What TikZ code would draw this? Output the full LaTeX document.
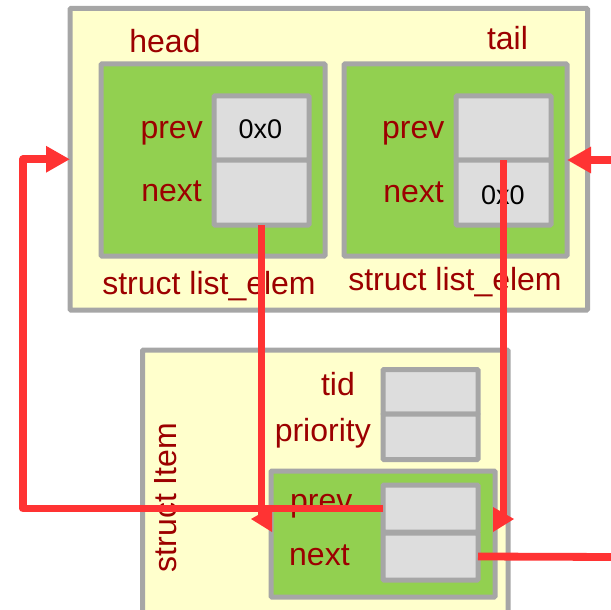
\documentclass[tikz,border=0pt]{standalone}
\usepackage{fontspec}
\setmainfont{Liberation Sans}
\usetikzlibrary{arrows.meta}
\definecolor{bordergray}{HTML}{A6A6A6}
\definecolor{paleyellow}{HTML}{FFFFCC}
\definecolor{leafgreen}{HTML}{92D050}
\definecolor{cellgray}{HTML}{DDDDDD}
\definecolor{txtred}{HTML}{9C0000}
\definecolor{linered}{HTML}{FF3333}
\tikzset{
  box/.style={rectangle, draw=bordergray, line width=5pt, inner sep=0pt, outer sep=0pt, rounded corners=1pt},
  ybox/.style={box, fill=paleyellow},
  gbox/.style={box, fill=leafgreen},
  cell/.style={box, fill=cellgray},
  lbl/.style={text=txtred, font=\fontsize{32}{37}\selectfont, inner sep=0pt},
  val/.style={text=black, font=\fontsize{27}{32}\selectfont, inner sep=0pt},
  conn/.style={draw=linered, line width=7.8pt, line join=round},
  bigtip/.style={-{Triangle[length=24pt,width=25pt]}},
}
\begin{document}
\begin{tikzpicture}[x=1pt,y=1pt]
\useasboundingbox (0,0) rectangle (611,-610);
% outer list box
\node[ybox, minimum width=517.5pt, minimum height=301.5pt] (outer) at (328.75,-159.25) {};
\node[gbox, minimum width=224pt, minimum height=192pt] (hg) at (213,-160) {};
\node[gbox, minimum width=223pt, minimum height=192pt] (tg) at (455.5,-160) {};
\node[cell, minimum width=95pt, minimum height=64pt] (hp) at (261.5,-128) {};
\node[cell, minimum width=95pt, minimum height=65pt] (hn) at (261.5,-192.5) {};
\node[cell, minimum width=95pt, minimum height=64pt] (tp) at (503.5,-128) {};
\node[cell, minimum width=95pt, minimum height=65pt] (tn) at (503.5,-192.5) {};
% item box
\node[ybox, minimum width=365.5pt, minimum height=275pt] (item) at (325.25,-487.5) {};
\node[cell, minimum width=95pt, minimum height=44.5pt] (tid) at (430.5,-391.75) {};
\node[cell, minimum width=95pt, minimum height=45.5pt] (pri) at (430.5,-436.75) {};
\node[gbox, minimum width=224pt, minimum height=126pt] (ig) at (383,-534) {};
\node[cell, minimum width=95pt, minimum height=47pt] (ip) at (430.5,-508.5) {};
\node[cell, minimum width=95pt, minimum height=47pt] (in) at (430.5,-556.5) {};
% texts
\node[lbl, anchor=base] (thead) at (165,-53) {head};
\node[lbl, anchor=base] (ttail) at (507.5,-50) {tail};
\node[lbl, anchor=base east] (thprev) at (203,-139) {prev};
\node[lbl, anchor=base east] (thnext) at (202,-201) {next};
\node[lbl, anchor=base east] (ttprev) at (444.5,-139) {prev};
\node[lbl, anchor=base east] (ttnext) at (444,-202) {next};
\node[val, anchor=base] (vh) at (260.5,-139) {0x0};
\node[val, anchor=base] (vt) at (503,-204) {0x0};
\node[lbl, anchor=base] (shead) at (209,-294) {struct list\_elem};
\node[lbl, anchor=base] (stail) at (455,-290) {struct list\_elem};
\node[lbl, anchor=base east] (ttid) at (355,-395) {tid};
\node[lbl, anchor=base east] (tpri) at (371,-441) {priority};
\node[lbl, anchor=base west] (tiprev) at (290,-511) {prev};
\node[lbl, anchor=base west] (tinext) at (289,-565) {next};
\node[lbl, anchor=base, rotate=90] (titem) at (176,-497.5) {struct Item};
% connectors
\coordinate (L) at (23,-159.25);
\coordinate (R) at (615,-160);
\coordinate (E) at (615,-557);
\coordinate (A3) at (261.5,-519);
\coordinate (A4) at (503.5,-519);
\draw[conn, bigtip] (ip.west) -| (L) -- (outer.west);
\draw[conn, bigtip] (R) -- (tg.east);
\draw[conn] (hn.south) -- (A3);
\fill[linered] (272,-507) -- (251,-519) -- (272,-532) -- cycle;
\draw[conn] (tp.south) -- (A4);
\fill[linered] (493,-507) -- (514,-519) -- (493,-532) -- cycle;
\draw[conn] (in.east) -- (E);
\end{tikzpicture}
\end{document}
